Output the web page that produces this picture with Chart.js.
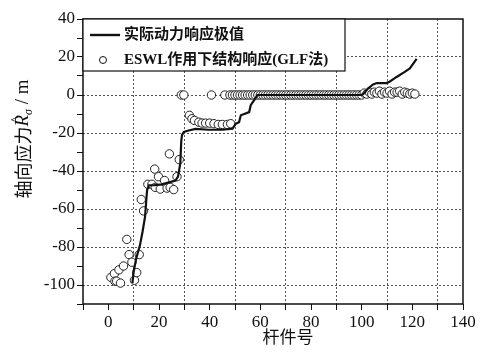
<!DOCTYPE html>
<html>
<head>
<meta charset="utf-8">
<script src="https://cdn.jsdelivr.net/npm/chart.js@4/dist/chart.umd.min.js"></script>
<style>
  body{margin:0;background:#fff}
</style>
</head>
<body>
<canvas id="chart" width="482" height="354"></canvas>
<script>
// curva: valores extremos de respuesta dinámica
const lineX=[9.5,10,11,12.5,13.5,14.5,15,15.3,16,18,21,24,26.5,27.5,28.4,28.8,29.1,29.8,31.7,34.4,39.7,45,49,50.3,51.6,52.3,55.6,56.2,57.5,58.9,70,85,100,101,102.5,104.5,106,109.8,111,113.8,117,119,121.7]
const lineY=[-99,-93,-86,-79,-72,-64,-55,-50,-47.5,-47.5,-47,-46,-45,-43,-36,-24,-21,-19.5,-18.7,-17.8,-18.3,-18.3,-17.8,-15.1,-14.3,-10.7,-9,-5.4,-2.8,0,0,0,0,1,3.4,5.6,6.3,6.3,7,9.5,12.2,14,19]

// puntos: respuesta bajo ESWL (método GLF)
const ptX=[1,2.4,2.6,3.3,4.2,4.8,6,7.3,8.2,9.3,10.3,11.2,12.2,13,13.9,
  15.6,17.2,18.3,18.5,19.8,20.5,22.2,23.2,24.1,24.4,25.8,27.1,28,28.8,29.8,
  32,33,34,35.7,37,38.4,40,40.7,41.7,43.4,45,46,47,48.3,
  48,49,50,51,52,53,54,55,56,57,58,59,60,61,62,63,64,65,66,67,68,69,70,71,72,73,74,
  75,76,77,78,79,80,81,82,83,84,85,86,87,88,89,90,91,92,93,94,95,96,97,98,99,100,
  101,102,103,104,105,106,107,108,109,110,111,112,113,114,115,116,117,118,119,120,121]
const ptY=[-96,-94,-98,-98,-92,-99,-90,-76,-84,-88,-97.5,-93.5,-84,-55,-61,
  -47,-47,-39,-48.6,-43,-49.5,-45,-49,-31,-48.6,-49.8,-43,-34,0,0,
  -10.7,-12.5,-13.4,-14.3,-14.8,-14.8,-14.8,0,-15.1,-15.5,-15.5,0,-15.5,-15.1,
  0,0,0,0,0,0,0,0,0,0,0,0,0,0,0,0,0,0,0,0,0,0,0,0,0,0,0,
  0,0,0,0,0,0,0,0,0,0,0,0,0,0,0,0,0,0,0,0,0,0,0,0,0,0,
  1,0.5,1.5,0.5,1.5,1,2,0.5,1.5,1,2,0.5,1.5,1.5,2,0.5,1.5,1,0.5,1,0.5]

const xMin=-10, xMax=140
const yMin=-110, yMax=40

const tickFont={family:'"Liberation Serif", serif',size:17}
const cjkFont='"Noto Sans CJK SC", sans-serif'

// marco, leyenda y títulos de ejes
const decor={
  id:'decor',
  afterDraw(chart){
    const {ctx,chartArea:a}=chart
    ctx.save()
    ctx.strokeStyle='#111'
    ctx.lineWidth=1.5
    ctx.strokeRect(a.left,a.top,a.right-a.left,a.bottom-a.top)

    // leyenda
    ctx.lineWidth=1.2
    ctx.fillStyle='#fff'
    ctx.fillRect(a.left,a.top,262,52)
    ctx.strokeRect(a.left,a.top,262,52)
    ctx.lineWidth=2.4
    ctx.beginPath()
    ctx.moveTo(90,35);ctx.lineTo(120,35)
    ctx.stroke()
    ctx.lineWidth=1
    ctx.beginPath()
    ctx.arc(103,60,3.5,0,Math.PI*2)
    ctx.fillStyle='#fff';ctx.fill();ctx.stroke()
    ctx.fillStyle='#111'
    ctx.textBaseline='middle'
    ctx.textAlign='left'
    ctx.font='bold 15px "Liberation Serif", '+cjkFont
    ctx.fillText('实际动力响应极值',124,35)
    ctx.fillText('ESWL作用下结构响应(GLF法)',124,60)

    // título eje x
    ctx.font='17px '+cjkFont
    ctx.textAlign='center'
    ctx.fillText('杆件号',288,337)

    // título eje y (girado)
    ctx.translate(23,139)
    ctx.rotate(-Math.PI/2)
    ctx.textAlign='left'
    const fCjk='18px '+cjkFont
    const fR='italic 19px "Liberation Serif", serif'
    const fS='italic 12px "Liberation Serif", serif'
    const fM='19px "Liberation Serif", serif'
    ctx.font=fCjk
    const t1='轴向应力'
    const w1=ctx.measureText(t1).width
    ctx.font=fR
    const wR=ctx.measureText('R').width
    ctx.font=fS
    const wS=ctx.measureText('σ').width
    ctx.font=fM
    const t3=' / m'
    const w3=ctx.measureText(t3).width
    let x=-(w1+wR+wS+w3)/2
    ctx.font=fCjk
    ctx.fillText(t1,x,0); x+=w1
    ctx.font=fR
    ctx.fillText('R',x,0)
    ctx.font='14px "Liberation Serif", serif'
    ctx.textAlign='center'
    ctx.fillText('^',x+wR/2+1,-6)
    ctx.textAlign='left'
    x+=wR
    ctx.font=fS
    ctx.fillText('σ',x,6); x+=wS
    ctx.font=fM
    ctx.fillText(t3,x,0)
    ctx.restore()
  }
}

const data={
  datasets:[{
    data:lineX.map((x,i)=>({x,y:lineY[i]})),
    showLine:true,
    borderColor:'#111',
    borderWidth:2.2,
    pointRadius:0,
    tension:0
  },{
    data:ptX.map((x,i)=>({x,y:ptY[i]})),
    pointRadius:4.2,
    pointBackgroundColor:'#fff',
    pointBorderColor:'#222',
    pointBorderWidth:1
  }]
}

const options={
  responsive:false,
  animation:false,
  layout:{padding:{left:0,top:19,right:19,bottom:0}},
  plugins:{legend:{display:false},tooltip:{enabled:false}},
  scales:{
    x:{
      type:'linear',min:xMin,max:xMax,
      afterFit:scale=>{scale.height=50},
      border:{display:false,dash:[2,2]},
      grid:{
        color:c=>(c.tick && Math.abs(c.tick.value)%20===10 && c.tick.value>xMin)?'#555':'rgba(0,0,0,0)',
        lineWidth:1,
        tickColor:'#111',
        tickLength:6
      },
      ticks:{
        stepSize:10,autoSkip:false,maxRotation:0,color:'#111',font:tickFont,padding:2,
        callback:v=>v%20===0?v:''
      }
    },
    y:{
      type:'linear',min:yMin,max:yMax,
      afterFit:scale=>{scale.width=83},
      border:{display:false,dash:[2,2]},
      grid:{
        color:c=>(c.tick && c.tick.value%20===0 && c.tick.value<yMax)?'#555':'rgba(0,0,0,0)',
        lineWidth:1,
        tickColor:'#111',
        tickLength:6
      },
      ticks:{
        stepSize:10,autoSkip:false,color:'#111',font:tickFont,padding:2,
        callback:v=>v%20===0?v:''
      }
    }
  }
}

new Chart('chart',{type:'scatter',data,options,plugins:[decor]})
</script>
</body>
</html>
